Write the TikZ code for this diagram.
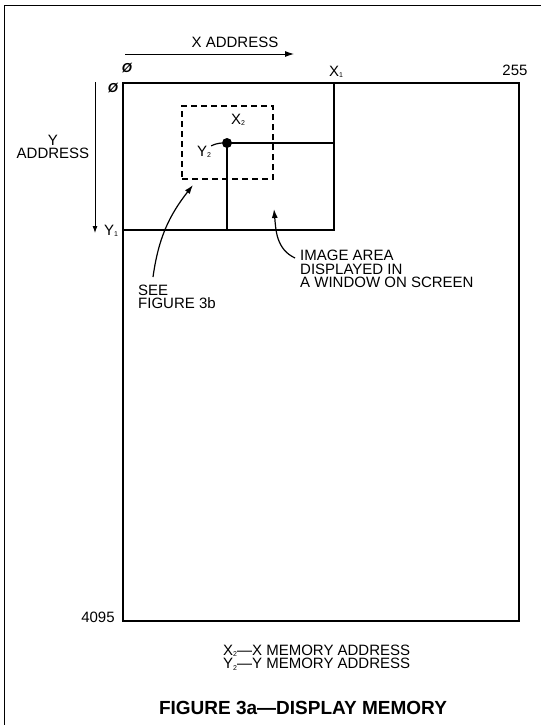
\documentclass[tikz,border=0pt]{standalone}
\usepackage{fontspec}
\setmainfont{Liberation Sans}
\usetikzlibrary{positioning}
\usetikzlibrary{arrows.meta}

\newcommand{\lowdigit}[1]{\raisebox{-1.5pt}{\fontsize{7}{7}\selectfont #1}}
\newcommand{\zerosl}{{\fontsize{13}{13}\selectfont\bfseries\itshape Ø}}

\begin{document}
\begin{tikzpicture}[x=1pt, y=1pt, >={Latex[length=9pt,width=6pt]},
    lbl/.style={font=\fontsize{15}{13.5}\selectfont, inner sep=0pt},
    thin/.style={line width=0.9pt},
    heavy/.style={line width=2pt}]
    \useasboundingbox (0,0) rectangle (541,-725);
    \draw[line width=1.5pt] (4.5,-725) -- (4.5,-5.5) -- (541,-5.5);

    \coordinate (m0) at (123,-83);
    \coordinate (m1) at (519,-621);
    \draw[line width=1.8pt] (m0) rectangle (m1);
    \coordinate (x1) at (334,-83);
    \coordinate (y1) at (123,-230);
    \coordinate (c1) at (334,-230);
    \draw[heavy] (x1) -- (c1) -- (y1);

    \node[draw, dashed, dash pattern=on 6pt off 4pt, line width=1.2pt, minimum width=91pt, minimum height=73pt] (win) at (227.5,-142.5) {};
    \node[fill, circle, inner sep=0pt, minimum size=10pt] (p2) at (227,-143) {};
    \draw[heavy] (p2.center) -- (p2.center -| c1);
    \draw[heavy] (p2.center) -- (p2.center |- c1);

    \node[lbl] (xaddr) at (235,-42) {X ADDRESS};
    \coordinate (xa0) at (125,-54);
    \coordinate (xa1) at (294,-54);
    \draw[thin, ->] (xa0) -- (xa1);
    \node[lbl, align=center] (yaddr) at (53,-147) {Y\\ADDRESS};
    \coordinate (ya0) at (95,-82);
    \coordinate (ya1) at (95,-233);
    \draw[thin, -{Latex[length=7pt,width=5pt]}] (ya0) -- (ya1);

    \node[lbl] (zx) at (127,-68) {\zerosl};
    \node[lbl] (zy) at (113,-88) {\zerosl};
    \node[lbl] (lx1) at (336,-72) {X\lowdigit{1}};
    \node[lbl] (l255) at (515,-70) {255};
    \node[lbl] (ly1) at (111,-231) {Y\lowdigit{1}};
    \node[lbl] (l4095) at (98,-617) {4095};
    \node[lbl] (lx2) at (238,-120) {X\lowdigit{2}};
    \node[lbl] (ly2) at (204,-152) {Y\lowdigit{2}};
    \draw[line width=1.2pt] (ly2.north east) to[bend left=10] (p2.west);

    \node[lbl, align=left, anchor=west] (see) at (138,-297) {SEE\\FIGURE 3b};
    \coordinate (see0) at (153,-277);
    \coordinate (see1) at (193,-185);
    \draw[line width=1.2pt, ->] (see0) to[out=82, in=232] (see1);

    \node[lbl, align=left, anchor=west] (img) at (300,-269) {IMAGE AREA\\DISPLAYED IN\\A WINDOW ON SCREEN};
    \coordinate (img0) at (295,-258);
    \coordinate (img1) at (274,-209);
    \draw[line width=1.2pt, ->] (img0) to[out=155, in=-85] (img1);

    \node[lbl, align=left, anchor=west] (key) at (223,-657.5) {X\lowdigit{2}---X MEMORY ADDRESS\\Y\lowdigit{2}---Y MEMORY ADDRESS};
    \node[font=\fontsize{19}{19}\selectfont\bfseries, inner sep=0pt] (title) at (303,-708) {FIGURE 3a---DISPLAY MEMORY};
\end{tikzpicture}
\end{document}
